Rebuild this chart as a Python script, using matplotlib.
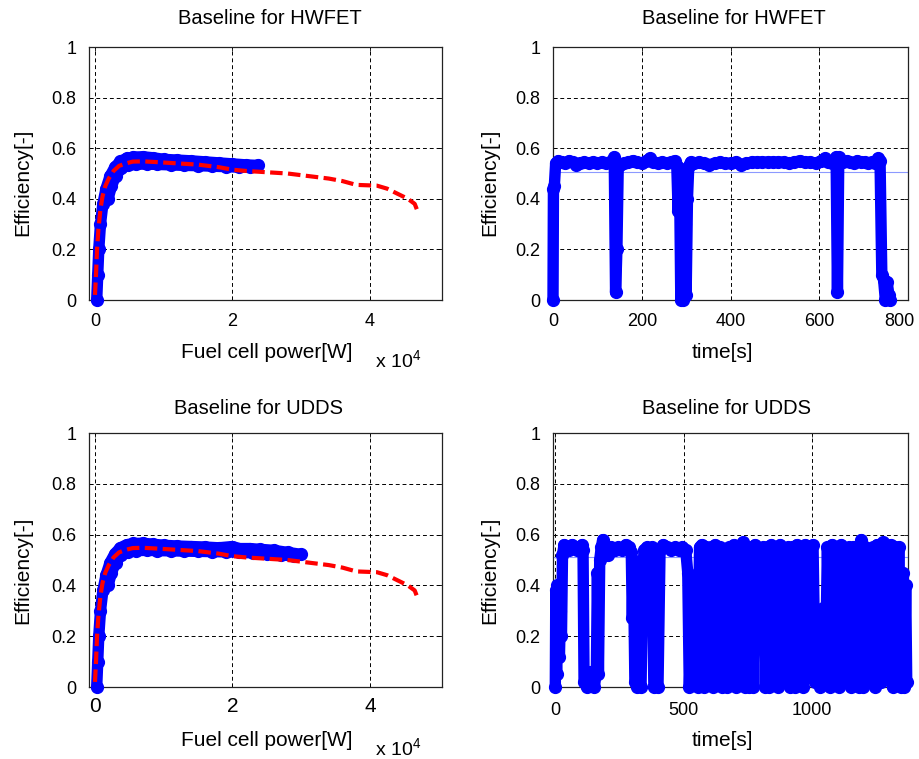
import matplotlib
matplotlib.use("Agg")
import matplotlib.pyplot as plt
from matplotlib.transforms import ScaledTranslation

plt.rcParams['font.family'] = ['Liberation Sans', 'DejaVu Sans']
plt.rcParams['mathtext.fontset'] = 'custom'
plt.rcParams['mathtext.rm'] = 'Liberation Sans'
plt.rcParams['path.simplify'] = False

# ---------------- data ----------------
# reference efficiency curve (red dashed), power in W
ref_p = [0, 150, 300, 500, 800, 1100, 1500, 2000, 2700, 3500, 4500, 5500, 7000, 9000,
         12000, 15000, 18000, 20000, 22000, 25000, 28000, 31000, 34000, 36000, 38000,
         40000, 41000, 42500, 44000, 45500, 46500, 47000]
ref_eta = [0.02, 0.10, 0.20, 0.28, 0.36, 0.41, 0.45, 0.48, 0.51, 0.53, 0.54, 0.547, 0.548, 0.545,
           0.54, 0.535, 0.525, 0.515, 0.51, 0.505, 0.50, 0.49, 0.48, 0.47, 0.455,
           0.453, 0.452, 0.44, 0.42, 0.40, 0.38, 0.345]

# HWFET operating points (power vs efficiency)
hw_p = [250, 400, 550, 800, 1150, 1600, 2200, 2900, 3700, 4600, 5600, 7000, 8500, 10000,
        12000, 14000, 16000, 18000, 20000, 22000, 23700, 22500, 21000, 19000, 17000,
        15000, 13000, 11000, 9000, 7500, 6000, 4800, 3800, 3000, 2400, 1900]
hw_eta = [0.0, 0.10, 0.20, 0.30, 0.38, 0.44, 0.49, 0.525, 0.548, 0.56, 0.565, 0.566, 0.562, 0.556,
          0.553, 0.55, 0.546, 0.542, 0.538, 0.534, 0.532, 0.527, 0.525, 0.527, 0.529,
          0.531, 0.532, 0.534, 0.536, 0.537, 0.537, 0.532, 0.52, 0.49, 0.45, 0.40]

# UDDS operating points (power vs efficiency)
ud_p = [250, 400, 550, 800, 1150, 1600, 2200, 2900, 3700, 4600, 5600, 7000, 8500, 10000,
        12000, 14000, 16000, 18000, 20000, 21000, 22500, 24000, 26000, 28000, 30000,
        29000, 27000, 25000, 23000, 21000, 19000, 17000, 15000, 13000, 11000, 9000,
        7500, 6000, 4800, 3800, 3000, 2400, 1900]
ud_eta = [0.0, 0.10, 0.20, 0.30, 0.38, 0.44, 0.49, 0.525, 0.548, 0.56, 0.565, 0.566, 0.562, 0.558,
          0.555, 0.553, 0.551, 0.548, 0.553, 0.545, 0.545, 0.542, 0.538, 0.53, 0.522,
          0.516, 0.52, 0.525, 0.528, 0.53, 0.532, 0.533, 0.534, 0.535, 0.536, 0.537,
          0.538, 0.537, 0.533, 0.52, 0.49, 0.45, 0.40]

# HWFET efficiency vs time
hw_t = [0, 1, 3, 6, 12, 20, 28, 36, 44, 52, 60, 70, 80, 90, 100, 110, 120, 128, 134, 138,
        141, 144, 147, 152, 160, 170, 180, 190, 200, 210, 218, 226, 236, 246, 256, 266,
        274, 279, 282, 285, 288, 291, 294, 297, 300, 303, 306, 310, 318, 328, 340, 352,
        364, 376, 388, 400, 412, 424, 436, 448, 460, 472, 484, 496, 508, 520, 532, 544,
        556, 568, 580, 592, 604, 612, 620, 628, 634, 638, 641, 644, 648, 654, 662, 670,
        678, 686, 694, 702, 710, 718, 726, 732, 737, 741, 745, 749, 753, 757, 760]
hw_te = [0.0, 0.44, 0.45, 0.54, 0.55, 0.545, 0.54, 0.55, 0.545, 0.535, 0.54, 0.545, 0.54,
         0.545, 0.54, 0.545, 0.54, 0.545, 0.55, 0.565, 0.03, 0.2, 0.53, 0.535, 0.54, 0.545,
         0.55, 0.545, 0.54, 0.55, 0.56, 0.545, 0.54, 0.545, 0.54, 0.545, 0.55, 0.53, 0.35,
         0.52, 0.0, 0.45, 0.0, 0.30, 0.02, 0.40, 0.53, 0.545, 0.54, 0.545, 0.54, 0.535,
         0.54, 0.545, 0.54, 0.54, 0.545, 0.535, 0.54, 0.545, 0.545, 0.545, 0.545, 0.545,
         0.545, 0.545, 0.54, 0.545, 0.55, 0.545, 0.545, 0.54, 0.55, 0.56, 0.545, 0.54,
         0.55, 0.565, 0.03, 0.565, 0.55, 0.545, 0.55, 0.545, 0.54, 0.55, 0.545, 0.545,
         0.54, 0.545, 0.54, 0.56, 0.55, 0.10, 0.08, 0.0, 0.07, 0.02, 0.0]
hw_mean = 0.505

# UDDS efficiency vs time
ud_t = [0, 2, 5, 8, 12, 16, 20, 24, 28, 34, 45, 55, 65, 75, 85, 95, 104, 108, 112, 122,
        134, 144, 152, 160, 164, 168, 173, 179, 185, 193, 205, 218, 232, 246, 260, 274,
        288, 296, 300, 304, 310, 318, 326, 334, 340, 346, 356, 366, 376, 384, 392, 400,
        408, 420, 435, 450, 465, 480, 495, 508, 516, 522, 530, 538, 546, 554, 562, 570,
        578, 587, 596, 605, 614, 623, 632, 641, 650, 659, 668, 677, 686, 695, 704, 713,
        722, 731, 740, 749, 756, 763, 770, 778, 794, 810, 818, 826, 834, 842, 850, 859,
        868, 876, 891, 906, 914, 923, 932, 941, 950, 958, 966, 974, 989, 1004, 1012,
        1022, 1033, 1044, 1052, 1060, 1069, 1078, 1087, 1097, 1106, 1114, 1129, 1144,
        1152, 1160, 1168, 1176, 1184, 1192, 1200, 1208, 1223, 1238, 1246, 1253, 1260,
        1264, 1268, 1276, 1291, 1306, 1314, 1322, 1330, 1338, 1346, 1354, 1360, 1365, 1369]
ud_te = [0.0, 0.38, 0.05, 0.40, 0.30, 0.12, 0.30, 0.20, 0.52, 0.56, 0.55, 0.54, 0.56, 0.55,
         0.54, 0.55, 0.56, 0.54, 0.02, 0.0, 0.06, 0.05, 0.0, 0.06, 0.45, 0.05, 0.50, 0.55,
         0.58, 0.54, 0.52, 0.55, 0.54, 0.55, 0.54, 0.56, 0.55, 0.53, 0.27, 0.50, 0.02, 0.0,
         0.04, 0.0, 0.45, 0.54, 0.55, 0.53, 0.55, 0.0, 0.02, 0.0, 0.54, 0.56, 0.55, 0.54,
         0.55, 0.54, 0.55, 0.54, 0.45, 0.0, 0.25, 0.02, 0.40, 0.0, 0.55, 0.56,
         0.0, 0.55, 0.01, 0.55, 0.0, 0.56, 0.02, 0.55, 0.0, 0.54, 0.0, 0.55, 0.02, 0.56,
         0.0, 0.55, 0.01, 0.57, 0.0, 0.55, 0.0, 0.55, 0.0, 0.56, 0.28, 0.55, 0.0, 0.55,
         0.0, 0.56, 0.02, 0.55, 0.0, 0.56, 0.35, 0.55, 0.0, 0.55, 0.0, 0.56, 0.01, 0.55,
         0.0, 0.56, 0.55, 0.56, 0.02, 0.30, 0.0, 0.31, 0.02, 0.55, 0.0, 0.56, 0.02, 0.55,
         0.0, 0.56, 0.46, 0.55, 0.0, 0.55, 0.01, 0.55, 0.0, 0.58, 0.0, 0.55, 0.12, 0.55,
         0.0, 0.56, 0.02, 0.56, 0.02, 0.57, 0.52, 0.56, 0.0, 0.55, 0.02, 0.55, 0.0, 0.45,
         0.0, 0.40, 0.02]
ud_mean = 0.51

yticks = [0, 0.2, 0.4, 0.6, 0.8, 1.0]
ytick_labels = ['0', '0.2', '0.4', '0.6', '0.8', '1']
p_ticks = [0, 20000, 40000]
p_tick_labels = ['0', '2', '4']
hw_time_ticks = [0, 200, 400, 600, 800]
ud_time_ticks = [0, 500, 1000]

titles = ['Baseline for HWFET', 'Baseline for HWFET', 'Baseline for UDDS', 'Baseline for UDDS']

# ---------------- figure ----------------
W, H = 919, 759
fig = plt.figure(figsize=(W / 100, H / 100), dpi=100)


def rect(l, t, r, b):
    return [l / W, (H - b) / H, (r - l) / W, (b - t) / H]


ax1 = fig.add_axes(rect(89, 47, 442, 300))
ax2 = fig.add_axes(rect(553, 47, 908, 300))
ax3 = fig.add_axes(rect(89, 433, 442, 687))
ax4 = fig.add_axes(rect(553, 433, 908, 687))

BLUE = (0, 0, 1)
RED = (1, 0, 0)
lw_b, ms_b = 8.2, 8.5


def style(ax, xt_size=13):
    ax.set_ylim(0, 1)
    ax.set_yticks(yticks)
    ax.set_yticklabels(ytick_labels)
    ax.grid(True, color='black', linestyle=(0, (4, 3)), linewidth=0.7)
    ax.set_axisbelow(True)
    for s in ax.spines.values():
        s.set_color('#222222')
        s.set_linewidth(0.9)
    ax.tick_params(axis='y', direction='in', length=3, width=0.6, labelsize=13, pad=9)
    ax.tick_params(axis='x', direction='in', length=3, width=0.6, labelsize=xt_size, pad=9)
    ax.tick_params(top=True, right=True)


def blue_plot(ax, x, y):
    ax.plot(x, y, '-o', color=BLUE, lw=lw_b, ms=ms_b, mec=BLUE, mfc=BLUE, zorder=3,
            solid_joinstyle='round', solid_capstyle='round', clip_on=False)


# top-left
blue_plot(ax1, hw_p, hw_eta)
ax1.plot(ref_p, ref_eta, color=RED, lw=3, linestyle=(0, (3, 1.3)), zorder=4)
ax1.set_xlim(-870, 50470)
ax1.set_xticks(p_ticks)
ax1.set_xticklabels(p_tick_labels)
style(ax1)

# top-right
ax2.axhline(hw_mean, color=(0.55, 0.6, 1.0), lw=0.8, zorder=2)
blue_plot(ax2, hw_t, hw_te)
ax2.set_xlim(0, 800)
ax2.set_xticks(hw_time_ticks)
style(ax2)
last = ax2.get_xticklabels()[-1]
last.set_transform(last.get_transform() + ScaledTranslation(-6 / 72, 0, fig.dpi_scale_trans))

# bottom-left
blue_plot(ax3, ud_p, ud_eta)
ax3.plot(ref_p, ref_eta, color=RED, lw=3, linestyle=(0, (3, 1.3)), zorder=4)
ax3.set_xlim(-870, 50470)
ax3.set_xticks(p_ticks)
ax3.set_xticklabels(p_tick_labels)
style(ax3, xt_size=15)
ax3.tick_params(axis='x', pad=7)

# bottom-right
ax4.axhline(ud_mean, color=(0.55, 0.6, 1.0), lw=0.8, zorder=2)
blue_plot(ax4, ud_t, ud_te)
ax4.set_xlim(-9, 1374)
ax4.set_xticks(ud_time_ticks)
style(ax4)
ax4.tick_params(axis='x', pad=11)

# texts
def ftext(x, y, s, **kw):
    fig.text(x / W, 1 - y / H, s, **kw)


ftext(270, 18, titles[0], ha='center', va='center', fontsize=14.5)
ftext(734, 18, titles[1], ha='center', va='center', fontsize=14.5)
ftext(259, 409, titles[2], ha='center', va='center', fontsize=14.5)
ftext(726, 409, titles[3], ha='center', va='center', fontsize=14.5)

ftext(23, 182, 'Efficiency[-]', ha='center', va='center', rotation=90, fontsize=15)
ftext(490, 182, 'Efficiency[-]', ha='center', va='center', rotation=90, fontsize=15)
ftext(23, 570, 'Efficiency[-]', ha='center', va='center', rotation=90, fontsize=15)
ftext(490, 570, 'Efficiency[-]', ha='center', va='center', rotation=90, fontsize=15)

ftext(267, 353, 'Fuel cell power[W]', ha='center', va='center', fontsize=15)
ftext(267, 741, 'Fuel cell power[W]', ha='center', va='center', fontsize=15)
ftext(722, 353, 'time[s]', ha='center', va='center', fontsize=15)
ftext(722, 741, 'time[s]', ha='center', va='center', fontsize=15)

ftext(375, 361, r'x 10$^{4}$', ha='left', va='center', fontsize=14)
ftext(375, 749, r'x 10$^{4}$', ha='left', va='center', fontsize=14)

fig.savefig('out.png', dpi=100)
